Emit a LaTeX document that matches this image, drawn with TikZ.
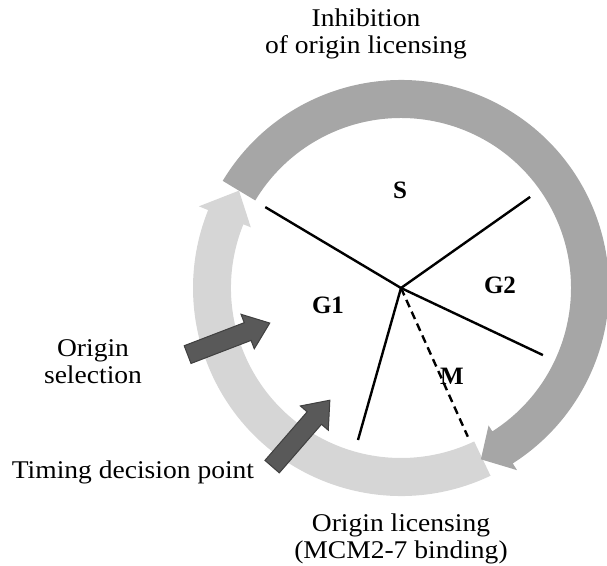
\documentclass[tikz,border=0pt]{standalone}
\usepackage{fontspec}
\setmainfont{Liberation Serif}
\newfontfamily\widefont{Liberation Serif}[FakeStretch=1.08]
\usetikzlibrary{shapes.arrows}

\definecolor{ringdark}{HTML}{A6A6A6}
\definecolor{ringlight}{HTML}{D6D6D6}
\definecolor{arrowgray}{HTML}{595959}

\begin{document}
\begin{tikzpicture}[x=1pt,y=1pt,
  phase/.style={font=\fontsize{25}{27}\selectfont\bfseries, inner sep=0pt},
  caption/.style={font=\widefont\fontsize{25.5}{27}\selectfont, align=center, anchor=base, inner sep=0pt},
  pushArrow/.style={single arrow, draw=black!75, fill=arrowgray, line width=1pt, inner sep=9pt,
    minimum height=88pt, minimum width=36pt, single arrow head extend=9pt, single arrow tip angle=76},
  border/.style={line width=2.4pt}]

  \useasboundingbox (-401,-277) rectangle (206,288);
  \coordinate (c) at (0,0);

  % ring, licensing part
  \fill[ringlight] (-64.5:208) arc (-64.5:-202:208) -- (-202:218) -- (-211:189) -- (-202:162)
    -- (-202:170) arc (-202:-64.5:170) -- cycle;
  % ring, inhibition part
  \fill[ringdark] (149:208) arc (149:-57.5:208) -- (-57.5:216) -- (-65:189) -- (-57.5:163)
    -- (-57.5:170) arc (-57.5:149:170) -- cycle;

  \coordinate (b1) at (149.2:158);
  \coordinate (b2) at (35.2:158);
  \coordinate (b3) at (-25.3:157);
  \coordinate (b4) at (-105.8:158);
  \coordinate (b5) at (-65.8:163);
  \draw[border] (c) -- (b1);
  \draw[border] (c) -- (b2);
  \draw[border] (c) -- (b3);
  \draw[border] (c) -- (b4);
  \draw[border, dash pattern=on 8pt off 5pt] (c) -- (b5);

  \node[phase] (s) at (-1,98) {S};
  \node[phase] (g1) at (-73,-17) {G1};
  \node[phase] (g2) at (99,3) {G2};
  \node[phase] (m) at (51,-88) {M};

  \node[pushArrow, rotate=21] (sel) at (-178,-53) {};
  \node[pushArrow, rotate=49] (timing) at (-104,-150) {};

  \node[caption] (inhib) at (-35,234) {Inhibition\\of origin licensing};
  \node[caption] (select) at (-308,-95) {Origin\\selection};
  \node[caption] (decide) at (-268,-190) {Timing decision point};
  \node[caption] (licens) at (0,-270) {Origin licensing\\(MCM2-7 binding)};
\end{tikzpicture}
\end{document}
